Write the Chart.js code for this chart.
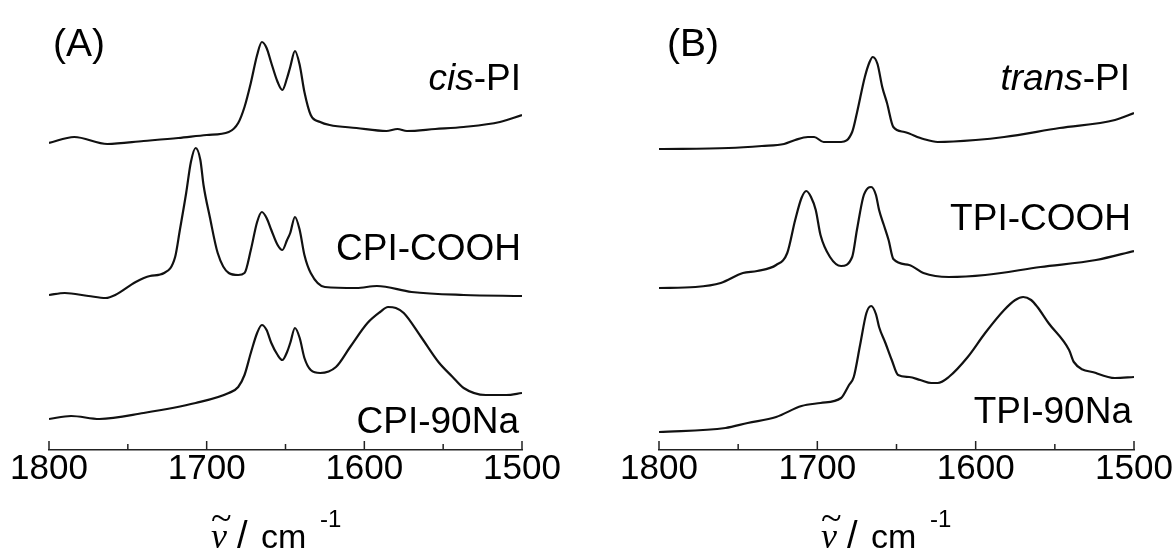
<!DOCTYPE html>
<html>
<head>
<meta charset="utf-8">
<script src="https://cdn.jsdelivr.net/npm/chart.js@4/dist/chart.umd.min.js"></script>
<style>
  html, body { margin: 0; padding: 0; background: #fff; width: 1176px; height: 558px; overflow: hidden; }
  canvas { position: absolute; top: 0; }
</style>
</head>
<body>
<canvas id="cA" width="588" height="558" style="left:0px"></canvas>
<canvas id="cB" width="588" height="558" style="left:588px"></canvas>
<script>
// ---------- DATA (wavenumber in cm^-1, absorbance in a.u. with vertical offsets) ----------
const xTickValues = [1800, 1700, 1600, 1500];
const xMinorTickValues = [1750, 1650, 1550];

// Panel A
const cisPI_wn  = [1800,1784,1763,1740,1718,1700,1686,1680,1676,1672,1668,1665,1662,1659,1655,1652,1649,1647,1644,1641,1638,1634,1628,1622,1605,1586,1579,1573,1555,1537,1514,1500];
const cisPI_abs = [3.07,3.13,3.06,3.09,3.12,3.15,3.18,3.27,3.43,3.67,3.95,4.08,4.02,3.87,3.68,3.60,3.72,3.83,3.99,3.85,3.58,3.35,3.28,3.25,3.22,3.19,3.21,3.19,3.21,3.23,3.28,3.35];

const cpiCOOH_wn  = [1800,1790,1775,1764,1758,1745,1736,1727,1720,1717,1713,1710,1707,1704,1702,1698,1693,1686,1680,1676,1672,1668,1665,1662,1659,1655,1652,1649,1647,1644,1641,1638,1634,1625,1605,1592,1570,1537,1500];
const cpiCOOH_abs = [1.55,1.57,1.54,1.52,1.55,1.68,1.74,1.77,1.93,2.20,2.57,2.88,3.02,2.90,2.65,2.33,1.97,1.77,1.75,1.77,2.00,2.28,2.38,2.32,2.20,2.05,2.00,2.10,2.17,2.33,2.20,1.95,1.77,1.63,1.62,1.64,1.58,1.55,1.54];

const cpi90Na_wn  = [1800,1786,1768,1740,1707,1686,1680,1676,1672,1668,1665,1662,1659,1655,1652,1649,1647,1644,1641,1638,1634,1628,1618,1609,1598,1590,1585,1580,1575,1564,1553,1544,1537,1523,1510,1500];
const cpi90Na_abs = [0.31,0.34,0.31,0.37,0.47,0.57,0.63,0.75,0.97,1.17,1.25,1.20,1.07,0.95,0.90,0.98,1.07,1.22,1.12,0.92,0.80,0.77,0.83,1.03,1.27,1.38,1.43,1.42,1.37,1.13,0.88,0.73,0.62,0.55,0.55,0.57];

// Panel B
const transPI_wn  = [1800,1756,1735,1721,1714,1706,1702,1696,1685,1678,1675,1670,1667,1665,1662,1659,1656,1652,1645,1633,1624,1600,1582,1547,1512,1500];
const transPI_abs = [3.01,3.02,3.04,3.06,3.10,3.13,3.13,3.08,3.08,3.18,3.37,3.73,3.88,3.93,3.86,3.63,3.47,3.23,3.18,3.11,3.08,3.10,3.13,3.22,3.30,3.37];

const tpiCOOH_wn  = [1800,1777,1761,1747,1738,1726,1719,1714,1710,1707,1704,1701,1698,1692,1685,1678,1675,1671,1668,1666,1663,1661,1658,1655,1652,1642,1633,1617,1594,1559,1524,1500];
const tpiCOOH_abs = [1.62,1.63,1.67,1.77,1.79,1.85,1.97,2.30,2.52,2.59,2.53,2.40,2.15,1.93,1.84,1.93,2.20,2.53,2.62,2.63,2.55,2.40,2.25,2.10,1.91,1.85,1.77,1.73,1.75,1.83,1.90,1.99];

const tpi90Na_wn  = [1800,1758,1744,1726,1710,1698,1685,1680,1677,1673,1669,1666,1663,1661,1657,1653,1649,1642,1635,1628,1624,1617,1605,1594,1582,1575,1570,1565,1561,1554,1541,1538,1524,1512,1500];
const tpi90Na_abs = [0.18,0.22,0.27,0.33,0.44,0.47,0.52,0.65,0.73,1.05,1.37,1.44,1.36,1.23,1.07,0.90,0.75,0.73,0.70,0.67,0.67,0.73,0.93,1.17,1.40,1.50,1.53,1.50,1.43,1.27,1.00,0.88,0.77,0.72,0.73];

const seriesNamesA = ['cis-PI', 'CPI-COOH', 'CPI-90Na'];
const seriesNamesB = ['trans-PI', 'TPI-COOH', 'TPI-90Na'];
const italicPrefixA = ['cis', '', ''];
const italicPrefixB = ['trans', '', ''];
const panelTitles = ['(A)', '(B)'];
const axisTitleSymbol = '\u03BD';
const axisTitleAccent = '~';
const axisTitleUnit = 'cm';
const axisTitleExp = '-1';

// ---------- LAYOUT / STYLE ----------
const LINE_COLOR = '#111';
const SANS = '"Liberation Sans", Arial, sans-serif';

function pts(wn, ab) { return wn.map((w, i) => ({ x: w, y: ab[i] })); }

function drawLabel(ctx, text, italicPrefix, right, cy, size) {
  const rest = text.slice(italicPrefix.length);
  ctx.font = size + 'px ' + SANS;
  const w2 = ctx.measureText(rest).width;
  ctx.font = 'italic ' + size + 'px ' + SANS;
  const w1 = italicPrefix ? ctx.measureText(italicPrefix).width : 0;
  const x0 = right - w1 - w2;
  ctx.textAlign = 'left';
  ctx.textBaseline = 'middle';
  if (italicPrefix) { ctx.font = 'italic ' + size + 'px ' + SANS; ctx.fillText(italicPrefix, x0, cy); }
  ctx.font = size + 'px ' + SANS;
  ctx.fillText(rest, x0 + w1, cy);
}

const overlay = {
  id: 'overlay',
  afterDraw(chart, args, o) {
    const ctx = chart.ctx;
    const xs = chart.scales.x;
    const bottom = chart.chartArea.bottom;
    ctx.save();
    ctx.strokeStyle = '#222';
    ctx.lineWidth = 1.5;
    ctx.beginPath();
    xTickValues.forEach(v => { const p = xs.getPixelForValue(v); ctx.moveTo(p, bottom); ctx.lineTo(p, bottom - 9); });
    xMinorTickValues.forEach(v => { const p = xs.getPixelForValue(v); ctx.moveTo(p, bottom); ctx.lineTo(p, bottom - 6); });
    ctx.stroke();

    ctx.fillStyle = '#000';
    o.labels.forEach(l => drawLabel(ctx, l.text, l.italic, l.right, l.y, 37));

    // panel title
    ctx.font = '39px ' + SANS;
    ctx.textAlign = 'left';
    ctx.textBaseline = 'middle';
    ctx.fillText(o.panel, o.panelX, 45);

    // axis title
    const sx = chart.chartArea.left + 162;
    const base = 548;
    ctx.textBaseline = 'alphabetic';
    ctx.font = 'italic 36px "Liberation Serif", serif';
    ctx.fillText(axisTitleSymbol, sx, base);
    ctx.font = '38px "Liberation Serif", serif';
    ctx.textBaseline = 'middle';
    ctx.fillText(axisTitleAccent, sx, base - 28);
    ctx.textBaseline = 'alphabetic';
    ctx.font = '38px ' + SANS;
    ctx.fillText('/', sx + 26, base);
    ctx.font = '34px ' + SANS;
    ctx.fillText(axisTitleUnit, sx + 50, base);
    ctx.font = '24px ' + SANS;
    ctx.fillText(axisTitleExp, sx + 109, base - 21);
    ctx.restore();
  }
};

function makeChart(id, series, names, italics, pad, labelRights, labelYs, panel, panelX) {
  return new Chart(document.getElementById(id), {
    type: 'line',
    data: {
      datasets: series.map(s => ({
        data: pts(s[0], s[1]),
        borderColor: LINE_COLOR,
        borderWidth: 2.2,
        pointRadius: 0,
        fill: false,
        cubicInterpolationMode: 'monotone'
      }))
    },
    options: {
      responsive: false,
      devicePixelRatio: 1,
      animation: false,
      layout: { padding: { left: pad[0], right: pad[1], top: 0, bottom: 0 } },
      scales: {
        x: {
          type: 'linear',
          reverse: true,
          min: 1500, max: 1800,
          offset: false,
          afterFit: (s) => { s.height = 108; },
          grid: { display: false, drawTicks: false, drawOnChartArea: false },
          border: { display: true, color: '#222', width: 1.5 },
          ticks: {
            stepSize: 100,
            autoSkip: false,
            maxRotation: 0,
            padding: -2,
            color: '#000',
            font: { family: SANS, size: 35 },
            callback: (v) => String(v)
          },
          title: { display: false }
        },
        y: { display: false, min: 0, max: 4.5 }
      },
      plugins: {
        legend: { display: false },
        tooltip: { enabled: false },
        overlay: {
          labels: names.map((n, i) => ({ text: n, italic: italics[i], right: labelRights[i], y: labelYs[i] })),
          panel: panel,
          panelX: panelX
        }
      }
    },
    plugins: [overlay]
  });
}

makeChart('cA',
  [[cisPI_wn, cisPI_abs], [cpiCOOH_wn, cpiCOOH_abs], [cpi90Na_wn, cpi90Na_abs]],
  seriesNamesA, italicPrefixA, [49, 66], [521, 521, 519], [80, 250, 423], panelTitles[0], 53);
makeChart('cB',
  [[transPI_wn, transPI_abs], [tpiCOOH_wn, tpiCOOH_abs], [tpi90Na_wn, tpi90Na_abs]],
  seriesNamesB, italicPrefixB, [71, 42], [542, 543, 544], [80, 220, 413], panelTitles[1], 79);
</script>
</body>
</html>
